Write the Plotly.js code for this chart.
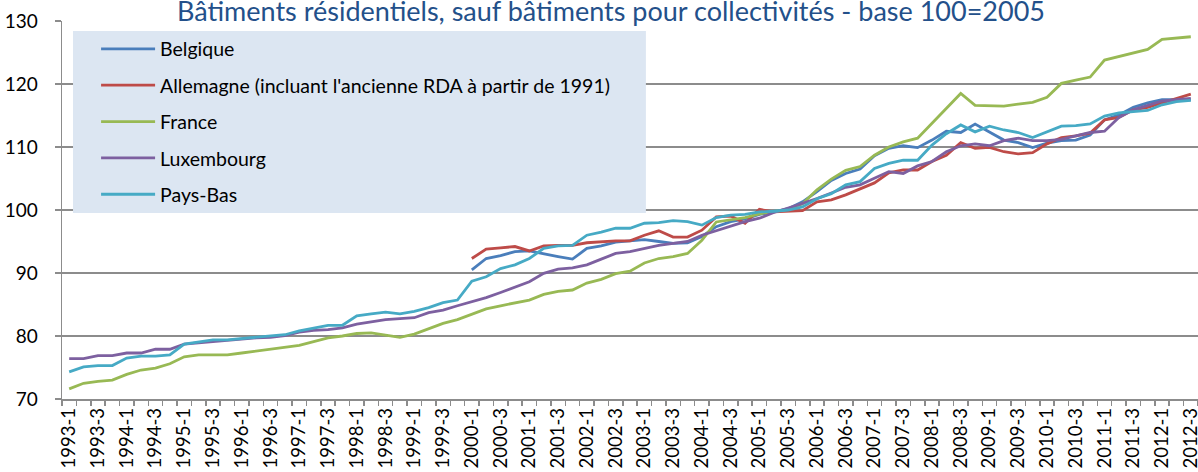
<!DOCTYPE html>
<html>
<head>
<meta charset="utf-8">
<script src="https://cdn.plot.ly/plotly-3.0.1.min.js"></script>
<style>
html,body{margin:0;padding:0;background:#fff;}
#chart{width:1198px;height:472px;}
</style>
</head>
<body>
<div id="chart"></div>
<script>
const quarters = [
"1993-1","1993-2","1993-3","1993-4","1994-1","1994-2","1994-3","1994-4",
"1995-1","1995-2","1995-3","1995-4","1996-1","1996-2","1996-3","1996-4",
"1997-1","1997-2","1997-3","1997-4","1998-1","1998-2","1998-3","1998-4",
"1999-1","1999-2","1999-3","1999-4","2000-1","2000-2","2000-3","2000-4",
"2001-1","2001-2","2001-3","2001-4","2002-1","2002-2","2002-3","2002-4",
"2003-1","2003-2","2003-3","2003-4","2004-1","2004-2","2004-3","2004-4",
"2005-1","2005-2","2005-3","2005-4","2006-1","2006-2","2006-3","2006-4",
"2007-1","2007-2","2007-3","2007-4","2008-1","2008-2","2008-3","2008-4",
"2009-1","2009-2","2009-3","2009-4","2010-1","2010-2","2010-3","2010-4",
"2011-1","2011-2","2011-3","2011-4","2012-1","2012-2","2012-3"];

const belgique = [
null,null,null,null,null,null,null,null,null,null,null,null,null,null,
null,null,null,null,null,null,null,null,null,null,null,null,null,null,
90.5,92.3,92.75,93.4,93.5,93.0,92.6,92.2,93.9,94.3,94.9,95.1,
95.3,95.0,94.7,94.8,95.8,97.35,98.15,98.6,99.3,99.7,100.2,101.3,
102.9,104.7,105.8,106.5,108.6,109.8,110.2,109.9,111.1,112.5,112.3,113.65,
112.4,111.1,110.7,109.9,110.6,111.0,111.1,111.9,114.3,115.1,116.3,117.0,
117.5,117.5,117.5];

const allemagne = [
null,null,null,null,null,null,null,null,null,null,null,null,null,null,
null,null,null,null,null,null,null,null,null,null,null,null,null,null,
92.3,93.8,94.0,94.2,93.5,94.3,94.4,94.4,94.8,95.0,95.1,95.1,
96.0,96.7,95.7,95.7,96.8,98.9,99.05,97.9,100.1,99.7,99.8,99.9,
101.3,101.6,102.4,103.4,104.3,105.9,106.35,106.35,107.7,108.7,110.7,109.8,
109.95,109.25,108.9,109.1,110.5,111.5,111.75,112.2,114.3,114.7,115.9,116.3,
117.0,117.7,118.4];

const france = [
71.6,72.5,72.8,73.0,73.9,74.6,74.9,75.6,76.7,77.0,77.0,77.0,
77.3,77.6,77.8,78.1,78.5,79.1,79.7,80.0,80.4,80.5,80.2,79.8,
80.3,81.2,82.0,82.6,83.4,84.3,84.8,85.2,85.7,86.6,87.1,87.3,
88.4,89.0,89.9,90.3,91.6,92.3,92.6,93.1,95.2,98.1,98.5,98.8,
99.4,99.7,100.1,101.0,103.2,104.9,106.3,106.9,108.7,110.0,110.8,111.4,
113.8,116.2,118.5,116.6,116.6,116.5,116.8,117.1,117.9,120.1,120.6,121.1,
123.8,124.4,125.0,125.5,127.1,127.3,127.5];

const luxembourg = [
76.4,76.4,76.9,76.9,77.3,77.3,77.9,77.9,78.7,78.9,79.2,79.4,
79.5,79.7,79.8,80.05,80.6,80.9,81.0,81.3,81.9,82.2,82.6,82.75,
82.9,83.7,84.1,84.8,85.45,86.1,86.9,87.7,88.6,89.95,90.6,90.8,
91.3,92.2,93.1,93.4,93.9,94.4,94.7,95.0,96.0,96.7,97.5,98.15,
98.7,99.6,100.3,101.0,101.8,102.7,103.6,104.0,105.0,106.1,105.8,107.0,
107.7,109.25,110.2,110.5,110.2,111.0,111.4,111.0,111.0,111.2,111.75,112.3,
112.5,114.7,115.9,116.6,117.3,117.5,117.7];

const paysBas = [
74.3,75.1,75.3,75.3,76.5,76.8,76.8,77.0,78.7,79.1,79.4,79.4,
79.6,79.8,80.05,80.2,80.8,81.2,81.7,81.7,83.2,83.5,83.8,83.5,
83.9,84.5,85.3,85.7,88.7,89.4,90.7,91.3,92.3,93.9,94.3,94.4,
96.0,96.5,97.1,97.1,97.9,98.0,98.3,98.15,97.6,98.8,99.2,99.3,
99.7,99.8,100.0,100.5,101.8,102.6,104.0,104.5,106.6,107.4,107.9,107.9,
110.3,112.1,113.5,112.4,113.3,112.7,112.3,111.5,112.4,113.3,113.4,113.65,
114.9,115.4,115.6,115.8,116.7,117.2,117.4];

const seriesNames = ["Belgique","Allemagne (incluant l'ancienne RDA à partir de 1991)","France","Luxembourg","Pays-Bas"];
const seriesValues = [belgique, allemagne, france, luxembourg, paysBas];
const seriesColors = ["#4A7EBB","#BE4B48","#98B954","#7D60A0","#46AAC5"];

const traces = seriesNames.map((name, k) => ({
  type: 'scatter',
  mode: 'lines',
  name: name,
  x: quarters,
  y: seriesValues[k],
  legendgroup: 'g' + k,
  connectgaps: false,
  line: {color: seriesColors[k], width: 2.8},
  hoverinfo: 'x+y+name'
}));

const gridGray = '#8C8C8C';
const font = "Lato, 'Open Sans', 'DejaVu Sans', sans-serif";

const layout = {
  width: 1198,
  height: 472,
  margin: {l: 62, r: 0, t: 21, b: 73, pad: 0},
  paper_bgcolor: '#ffffff',
  plot_bgcolor: '#ffffff',
  font: {family: font, color: '#000000', size: 19},
  title: {
    text: 'Bâtiments résidentiels, sauf bâtiments pour collectivités - base 100=2005',
    font: {family: font, size: 27, color: '#23508A'},
    x: 0.51, xref: 'container', xanchor: 'center',
    y: 0.975, yref: 'container', yanchor: 'middle'
  },
  showlegend: true,
  legend: {
    x: 0.03, xanchor: 'left', xref: 'paper',
    y: 0.977, yanchor: 'top', yref: 'paper',
    bgcolor: 'rgba(0,0,0,0)',
    borderwidth: 0,
    font: {family: font, size: 19.5, color: '#000000'},
    traceorder: 'grouped',
    tracegroupgap: 8,
    itemwidth: 54
  },
  shapes: [{
    type: 'rect', xref: 'paper', yref: 'paper',
    x0: 0.0097, x1: 0.514, y0: 0.492, y1: 0.9735,
    fillcolor: '#DCE6F2', line: {width: 0}, layer: 'above'
  }],
  xaxis: {
    type: 'category',
    categoryorder: 'array',
    categoryarray: quarters,
    range: [-0.5, quarters.length - 0.5],
    tickson: 'boundaries',
    dtick: 1,
    ticklabelstep: 2,
    ticks: 'outside',
    ticklen: 5,
    tickwidth: 1.5,
    tickcolor: gridGray,
    tickangle: -90,
    tickfont: {family: font, size: 18.5, color: '#000000'},
    showline: true,
    linecolor: gridGray,
    linewidth: 1.5,
    showgrid: false,
    zeroline: false,
    fixedrange: true
  },
  yaxis: {
    range: [70, 130],
    dtick: 10,
    tick0: 70,
    ticks: 'outside',
    ticklen: 6,
    tickwidth: 1.5,
    tickcolor: gridGray,
    ticklabelstandoff: 13,
    tickfont: {family: font, size: 19, color: '#000000'},
    showline: true,
    linecolor: gridGray,
    linewidth: 1.5,
    showgrid: true,
    gridcolor: gridGray,
    gridwidth: 1.5,
    zeroline: false,
    fixedrange: true
  }
};

Plotly.newPlot('chart', traces, layout, {displayModeBar: false, staticPlot: true});
</script>
</body>
</html>
